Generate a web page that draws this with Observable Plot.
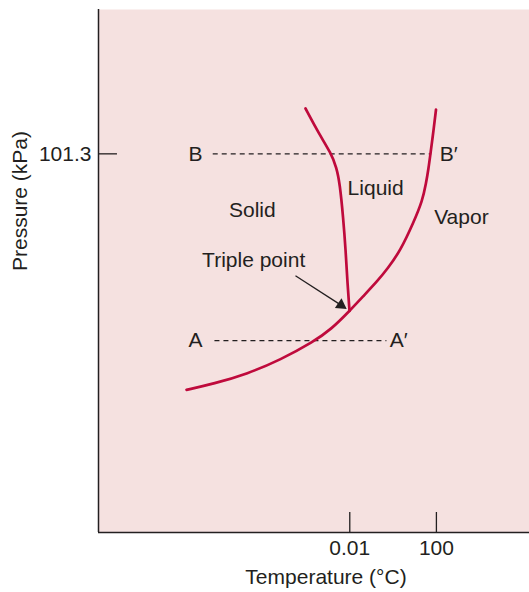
<!DOCTYPE html>
<html>
<head>
<meta charset="utf-8">
<script src="https://cdn.jsdelivr.net/npm/d3@7"></script>
<script src="https://cdn.jsdelivr.net/npm/@observablehq/plot@0.6"></script>
<style>
  html, body { margin: 0; padding: 0; background: #ffffff; }
</style>
</head>
<body>
<div id="chart"></div>
<script>
// Schematic phase diagram of water (arbitrary axis units 0-100)
const vaporT = [20.42, 26.68, 34.57, 42.23, 49.88, 54.06, 58.24, 61.48, 64.73, 67.05, 70.07, 73.09, 75.17, 75.99, 76.57, 77.03, 77.73, 78.31];
const vaporP = [27.28, 28.43, 30.34, 33.02, 36.46, 38.91, 42.35, 45.22, 48.09, 50.42, 53.92, 59.27, 63.48, 66.73, 69.60, 72.47, 76.86, 80.88];

const meltT = [58.24, 57.77, 57.35, 56.77, 55.99, 55.22, 53.99, 51.11, 48.03];
const meltP = [42.35, 47.61, 53.92, 60.23, 66.73, 69.79, 72.47, 76.29, 81.07];

// dashed isobars B–B′ and A–A′
const isoName = ["B", "A"];
const isoT1 = [26.5, 26.9];
const isoT2 = [77.2, 66.8];
const isoP = [72.4, 36.7];

// region / point labels
const labelText = ["B", "A", "Solid", "Triple point", "Liquid", "Vapor"];
const labelT = [22.5, 22.5, 35.7, 36.0, 64.3, 84.2];
const labelP = [72.4, 36.7, 61.6, 52.0, 65.8, 60.2];
const primeText = ["B\u2032", "A\u2032"];
const primeT = [79.2, 67.6];
const primeP = [72.4, 36.7];

// arrow to triple point
const arrowFrom = [45.7, 49.1];
const arrowTo = [56.27, 43.48];

// axis ticks
const tempTicks = [58.3, 78.4];
const tempTickLabels = ["0.01", "100"];
const presTicks = [72.4];
const presTickLabels = ["101.3"];

const vapor = vaporT.map((t, i) => ({t, p: vaporP[i]}));
const melt = meltT.map((t, i) => ({t, p: meltP[i]}));
const iso = isoName.map((n, i) => ({n, t1: isoT1[i], t2: isoT2[i], p: isoP[i]}));
const labels = labelText.map((s, i) => ({s, t: labelT[i], p: labelP[i]}));
const primes = primeText.map((s, i) => ({s, t: primeT[i], p: primeP[i]}));
const xt = tempTicks.map((t, i) => ({t, s: tempTickLabels[i]}));
const yt = presTicks.map((p, i) => ({p, s: presTickLabels[i]}));

const ink = "#231f20";
const red = "#bf0a3c";
const pink = "#f5e1e0";
const fs = 21;

const chart = Plot.plot({
  width: 529,
  height: 592,
  marginLeft: 98,
  marginRight: 0,
  marginTop: 9,
  marginBottom: 60,
  x: {domain: [0, 100], axis: null},
  y: {domain: [0, 100], axis: null},
  style: {fontFamily: "'Liberation Sans', Arial, sans-serif", fontSize: fs + "px", color: ink, background: "#ffffff"},
  marks: [
    Plot.frame({fill: pink, stroke: null}),
    Plot.ruleX([0], {stroke: ink, strokeWidth: 1.5}),
    Plot.ruleY([0], {stroke: ink, strokeWidth: 1.5}),
    Plot.ruleX(xt, {x: "t", y1: 0, y2: 3.82, stroke: ink, strokeWidth: 1.3}),
    Plot.ruleY(yt, {y: "p", x1: 0, x2: 4.4, stroke: ink, strokeWidth: 1.3}),
    Plot.text(xt, {x: "t", text: "s", frameAnchor: "bottom", dy: 22, fill: ink, fontSize: fs}),
    Plot.text(yt, {y: "p", text: "s", frameAnchor: "left", textAnchor: "end", dx: -7, fill: ink, fontSize: fs}),
    Plot.text(["Temperature (\u00B0C)"], {frameAnchor: "bottom", dx: 12, dy: 51, fill: ink, fontSize: fs}),
    Plot.text(["Pressure (kPa)"], {frameAnchor: "left", dx: -78, rotate: -90, fill: ink, fontSize: fs}),
    Plot.link(iso, {x1: "t1", x2: "t2", y1: "p", y2: "p", stroke: ink, strokeWidth: 1.2, strokeDasharray: "5,4"}),
    Plot.line(vapor, {x: "t", y: "p", stroke: red, strokeWidth: 2.7, curve: "basis"}),
    Plot.line(melt, {x: "t", y: "p", stroke: red, strokeWidth: 2.7, curve: "basis"}),
    Plot.link([{x1: arrowFrom[0], y1: arrowFrom[1], x2: arrowTo[0], y2: arrowTo[1]}],
      {x1: "x1", y1: "y1", x2: "x2", y2: "y2", stroke: ink, strokeWidth: 1.3}),
    Plot.dot([{x: arrowTo[0], y: arrowTo[1]}], {x: "x", y: "y", symbol: "triangle", r: 4.4, fill: ink, stroke: null, rotate: 124}),
    Plot.text(labels, {x: "t", y: "p", text: "s", fill: ink, fontSize: fs}),
    Plot.text(primes, {x: "t", y: "p", text: "s", textAnchor: "start", fill: ink, fontSize: fs})
  ]
});
document.getElementById("chart").appendChild(chart);
</script>
</body>
</html>
